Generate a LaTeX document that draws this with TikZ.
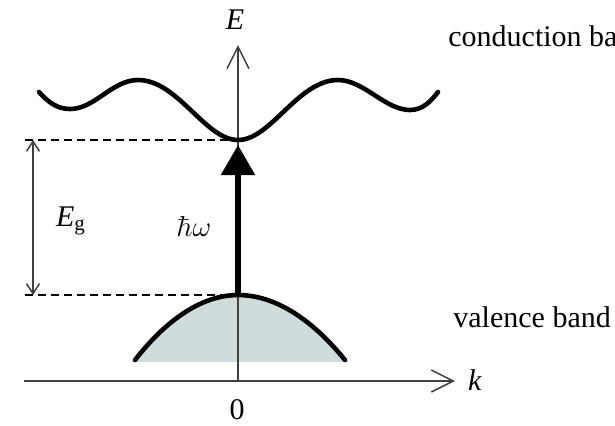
\documentclass[tikz,border=0pt]{standalone}
\usepackage[no-math]{fontspec}
\setmainfont{Liberation Serif}
\usetikzlibrary{arrows.meta}
\definecolor{vbfill}{HTML}{D0DCDC}
\definecolor{axisgray}{HTML}{404040}

\begin{document}
\begin{tikzpicture}[x=0.5pt, y=-0.5pt,
  axis/.style={draw=axisgray, line width=0.75pt, -{Straight Barb[length=11pt, width=11pt]}},
  band/.style={line width=2.3pt, line cap=round},
  guide/.style={dash pattern=on 4pt off 2.5pt, line width=0.7pt},
  lbl/.style={font=\fontsize{15}{18}\selectfont, inner sep=0pt}]
\useasboundingbox (0,0) rectangle (615,425);
\coordinate (origin) at (238,381);
\coordinate (kstart) at (24,381);
\coordinate (kend) at (455,381);
\coordinate (Eend) at (238,45);
\coordinate (cbmin) at (238,140);
\coordinate (vbmax) at (238,295);
\coordinate (gaptop) at (33,140);
\coordinate (gapbot) at (33,295);
% valence band filling
\fill[vbfill] (135,360) parabola bend (238,295) (345,360) -- (345,362) -- (135,362) -- cycle;
% axes
\draw[axis] (kstart) -- (kend);
\draw[axis] (origin) -- (Eend);
\node[lbl] (Elabel) at (235,20) {\textit{E}};
\node[lbl] (klabel) at (475,380) {\textit{k}};
\node[lbl] (zero) at (237,410) {0};
% bands
\draw[band] (39,92) .. controls (48,102) and (57,109) .. (70,109)
  .. controls (95,109) and (112,80) .. (138,80)
  .. controls (178,80) and (205,140) .. (238,140)
  .. controls (271,140) and (298,80) .. (338,80)
  .. controls (364,80) and (385,110) .. (410,110)
  .. controls (423,110) and (431,101) .. (438,92);
\draw[band] (135,360) parabola bend (238,295) (345,360);
\node[lbl, anchor=west] (cblabel) at (448,36) {conduction band};
\node[lbl, anchor=west] (vblabel) at (453,317) {valence band};
% gap
\draw[guide] (25,140) -- (cbmin);
\draw[guide] (25,295) -- (vbmax);
\draw[draw=axisgray, line width=0.75pt, {Straight Barb[length=5pt, width=6.5pt]}-{Straight Barb[length=5pt, width=6.5pt]}] (gaptop) -- (gapbot);
\node[lbl] (Eg) at (71,221) {\textit{E}\textsubscript{g}};
\draw[line width=2.7pt, -{Triangle[length=15pt, width=16.5pt]}, shorten >=2.5pt] (vbmax) -- (cbmin);
\node[lbl] (hw) at (194,226) {$\hbar\omega$};
\end{tikzpicture}
\end{document}
